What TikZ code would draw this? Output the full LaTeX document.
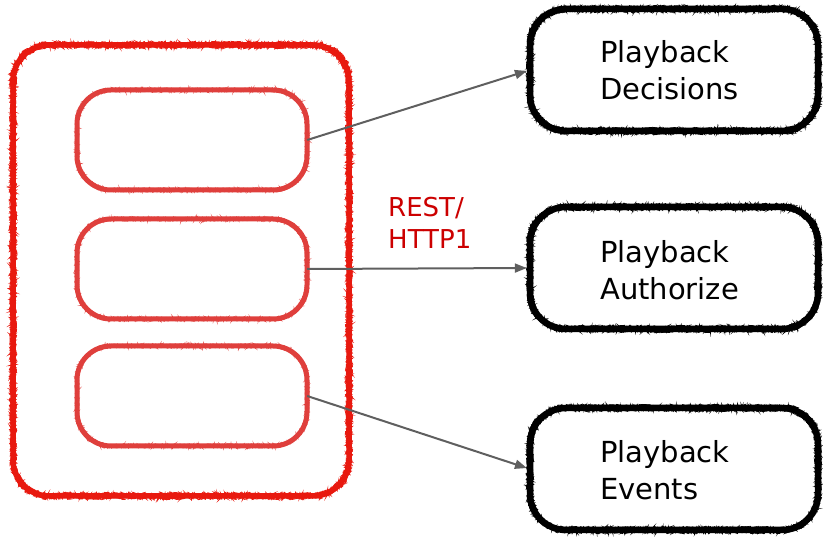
\documentclass[tikz,border=0pt]{standalone}
\usepackage{fontspec}
\setmainfont{DejaVu Sans}
\usetikzlibrary{decorations.pathmorphing,arrows.meta}
\definecolor{outerred}{HTML}{E8190F}
\definecolor{innerred}{HTML}{DC2A26}
\definecolor{linkgray}{HTML}{5F5F5F}
\definecolor{labelred}{HTML}{CC0000}

% rounded rectangle traced as an explicit path, so that a decoration follows the corners
% #1 style, #2 x0, #3 y0 (top), #4 x1, #5 y1 (bottom), #6 corner radius
\newcommand\roundedtrace[6]{%
  \draw[#1] (#2+#6,#3) -- (#4-#6,#3) arc[start angle=270,end angle=360,radius=#6]
    -- (#4,#5-#6) arc[start angle=0,end angle=90,radius=#6]
    -- (#2+#6,#5) arc[start angle=90,end angle=180,radius=#6]
    -- (#2,#3+#6) arc[start angle=180,end angle=270,radius=#6] -- cycle;}

% marker-like outline: a solid core plus several jittered strokes
% #1 colour, #2 core width, #3 jitter amplitude, #4..#7 corners, #8 radius
\newcommand\markerbox[8]{%
  \roundedtrace{draw=#1, line width=#2, line join=round}{#4}{#5}{#6}{#7}{#8}
  \foreach \pass in {1,2,3,4}{%
    \roundedtrace{draw=#1, line width=0.9pt, rough=#3}{#4}{#5}{#6}{#7}{#8}}%
}

\begin{document}
\begin{tikzpicture}[x=1pt,y=-1pt,
  rough/.style={decorate, decoration={random steps, segment length=1.1pt, amplitude=#1}},
  holder/.style={inner sep=0pt, minimum width=#1},
  svctext/.style={font=\fontsize{29}{35}\selectfont, anchor=base west, inner sep=0pt},
  proto/.style={font=\fontsize{26}{31}\selectfont, text=labelred, anchor=base west, inner sep=0pt},
  link/.style={draw=linkgray, line width=2pt, -{Triangle[length=12pt,width=9pt]}, shorten >=3pt},
]
\useasboundingbox (0,0) rectangle (823,537);

% application container with its three slots
\node[holder=336pt, minimum height=451pt] (app) at (181,270.5) {};
\markerbox{outerred}{5.5pt}{3.6pt}{13}{45}{349}{496}{36}

\node[holder=230pt, minimum height=100pt] (s1) at (192,140) {};
\node[holder=230pt, minimum height=100pt] (s2) at (192,269) {};
\node[holder=230pt, minimum height=100pt] (s3) at (192,396) {};
\markerbox{innerred!90}{5pt}{2pt}{77}{90}{307}{190}{34}
\markerbox{innerred!90}{5pt}{2pt}{77}{219}{307}{319}{34}
\markerbox{innerred!90}{5pt}{2pt}{77}{346}{307}{446}{34}

% playback services
\node[holder=288pt, minimum height=122pt] (dec) at (674,70) {};
\node[holder=288pt, minimum height=122pt] (aut) at (674,268) {};
\node[holder=288pt, minimum height=122pt] (evt) at (674,469) {};
\markerbox{black}{6.5pt}{3.6pt}{530}{9}{818}{131}{36}
\markerbox{black}{6.5pt}{3.6pt}{530}{207}{818}{329}{36}
\markerbox{black}{6.5pt}{3.6pt}{530}{408}{818}{530}{36}

\node[svctext] (dec1) at (600,63) {Playback};
\node[svctext] (dec2) at (600,100) {Decisions};
\node[svctext] (aut1) at (600,263) {Playback};
\node[svctext] (aut2) at (600,300) {Authorize};
\node[svctext] (evt1) at (600,463) {Playback};
\node[svctext] (evt2) at (600,500) {Events};

% protocol label
\node[proto] (rest) at (388,217) {REST/};
\node[proto] (http) at (388,249) {HTTP1};

% calls from the slots to the services
\draw[link] (s1.east) -- (dec.west);
\draw[link] (s2.east) -- (aut.west);
\draw[link] (s3.east) -- (evt.west);
\end{tikzpicture}
\end{document}
